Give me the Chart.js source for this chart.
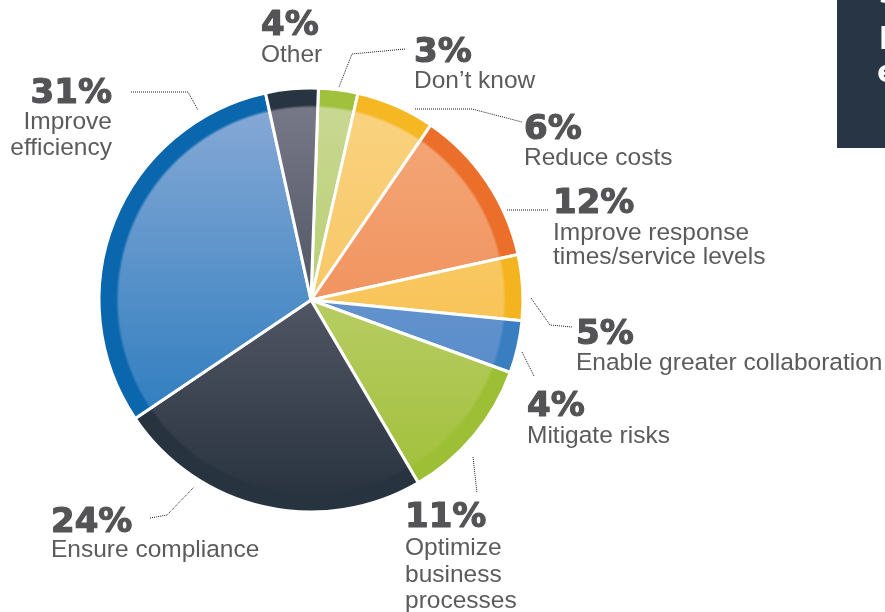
<!DOCTYPE html>
<html>
<head>
<meta charset="utf-8">
<script src="https://cdn.jsdelivr.net/npm/chart.js@4.4.0/dist/chart.umd.min.js"></script>
<style>
html, body { margin: 0; padding: 0; width: 885px; height: 612px; overflow: hidden; background: #fff; }
#wrap { position: relative; width: 885px; height: 612px; }
#pie, #overlay { position: absolute; left: 0; top: 0; }
.num { font-family: "DejaVu Sans", sans-serif; font-weight: bold; font-size: 34px; fill: #545456; stroke: #545456; stroke-width: 1.2; stroke-linejoin: round; }
.lbl { font-family: "Liberation Sans", Arial, sans-serif; font-size: 24.5px; fill: #5b5b5d; }
.lead { fill: none; stroke: #1a1a1a; stroke-width: 1; stroke-dasharray: 1 1; }
.box { font-family: "DejaVu Sans", sans-serif; font-weight: bold; font-size: 30px; fill: #fff; }
</style>
</head>
<body>
<div id="wrap">
  <canvas id="pie" width="885" height="612"></canvas>
  <svg id="overlay" width="885" height="612" xmlns="http://www.w3.org/2000/svg">
    <rect x="837" y="0" width="60" height="148" fill="#283544"/>
    <text class="box" x="879" y="3">s</text>
    <text class="box" x="879" y="43">p</text>
    <text class="box" x="877" y="82">e</text>
  </svg>
</div>
<script>
// data, clockwise from the top
const categories = ["Don’t know", "Reduce costs", "Improve response times/service levels",
  "Enable greater collaboration", "Mitigate risks", "Optimize business processes",
  "Ensure compliance", "Improve efficiency", "Other"];
const shares = [3, 6, 12, 5, 4, 11, 24, 31, 4];
const labelLines = [["Don’t know"], ["Reduce costs"], ["Improve response", "times/service levels"],
  ["Enable greater collaboration"], ["Mitigate risks"], ["Optimize", "business", "processes"],
  ["Ensure compliance"], ["Improve", "efficiency"], ["Other"]];

// slice colours: gradient top / bottom and the darker outer rim
const topColors = ["#cad995", "#fad382", "#f5aa7c", "#fbd27e", "#7aa3d8", "#d0db94", "#7b7b8b", "#8babd7", "#7b7b8b"];
const bottomColors = ["#a9c552", "#f6bb4a", "#ec7f45", "#f6b938", "#4a82c4", "#9ebe33", "#26303d", "#1671b8", "#26303d"];
const ringColors = ["#9fc13b", "#f5b722", "#eb6e2b", "#f4b420", "#3a7ec2", "#9dbf35", "#283340", "#0a67ad", "#283441"];

const W = 885, H = 612;
const CX = 311, CY = 300, R = 212;

// where each callout sits
const callouts = [
  { x: 414, num: 62, lines: [88], lead: [[405, 49], [352, 54], [339, 87]] },
  { x: 524, num: 139, lines: [165], lead: [[415, 109], [472, 109], [522, 122]] },
  { x: 553, num: 213, lines: [240, 264], lead: [[507, 210], [548, 210]] },
  { x: 576, num: 344, lines: [370], lead: [[531, 298], [550, 325], [572, 327]] },
  { x: 527, num: 416, lines: [443], lead: [[522, 352], [534, 376]] },
  { x: 405, num: 527, lines: [555, 582, 608], lead: [[473, 457], [477, 493]] },
  { x: 51, num: 532, lines: [557], lead: [[150, 518], [167, 515], [194, 487]] },
  { x: 112, num: 103, lines: [129, 155], anchor: 'end', lead: [[131, 92], [188, 92], [198, 110]] },
  { x: 261, num: 35, lines: [62], lead: null }
];

function hexRgb(h) {
  var n = parseInt(h.slice(1), 16);
  return [(n >> 16) & 255, (n >> 8) & 255, n & 255];
}

// full-size pattern: vertical gradient plus dark rim, so the arcs pick it up in place
function slicePattern(ctx, top, bottom, ring) {
  var c = document.createElement('canvas');
  c.width = W; c.height = H;
  var g = c.getContext('2d');
  var lin = g.createLinearGradient(0, CY - R, 0, CY + R);
  lin.addColorStop(0, top);
  lin.addColorStop(1, bottom);
  g.fillStyle = lin;
  g.fillRect(0, 0, W, H);
  var rgb = hexRgb(ring).join(',');
  var rad = g.createRadialGradient(CX, CY, 0, CX, CY, R);
  rad.addColorStop(0, 'rgba(' + rgb + ',0)');
  rad.addColorStop((R - 20) / R, 'rgba(' + rgb + ',0)');
  rad.addColorStop((R - 17) / R, 'rgba(' + rgb + ',1)');
  rad.addColorStop(1, 'rgba(' + rgb + ',1)');
  g.fillStyle = rad;
  g.fillRect(0, 0, W, H);
  return ctx.createPattern(c, 'no-repeat');
}

var canvas = document.getElementById('pie');
var ctx = canvas.getContext('2d');
var patterns = shares.map(function (v, i) {
  return slicePattern(ctx, topColors[i], bottomColors[i], ringColors[i]);
});

new Chart(canvas, {
  type: 'pie',
  data: {
    labels: categories,
    datasets: [{
      data: shares,
      backgroundColor: patterns,
      borderColor: '#ffffff',
      borderWidth: 3
    }]
  },
  options: {
    responsive: false,
    animation: false,
    devicePixelRatio: 1,
    events: [],
    rotation: 2,
    radius: R,
    layout: { padding: { left: 0, top: 0, right: W - 2 * CX, bottom: H - 2 * CY } },
    plugins: { legend: { display: false }, tooltip: { enabled: false } }
  }
});

// callout text and dotted leaders
var svg = document.getElementById('overlay');
var NS = 'http://www.w3.org/2000/svg';
function addText(cls, x, y, str, anchor) {
  var t = document.createElementNS(NS, 'text');
  t.setAttribute('class', cls);
  t.setAttribute('x', x);
  t.setAttribute('y', y);
  if (anchor) t.setAttribute('text-anchor', anchor);
  t.textContent = str;
  svg.appendChild(t);
}
callouts.forEach(function (c, i) {
  addText('num', c.x, c.num, shares[i] + '%', c.anchor);
  labelLines[i].forEach(function (line, j) {
    addText('lbl', c.x, c.lines[j], line, c.anchor);
  });
  if (c.lead) {
    var p = document.createElementNS(NS, 'polyline');
    p.setAttribute('class', 'lead');
    p.setAttribute('points', c.lead.map(function (pt) { return pt.join(','); }).join(' '));
    svg.appendChild(p);
  }
});
</script>
</body>
</html>
